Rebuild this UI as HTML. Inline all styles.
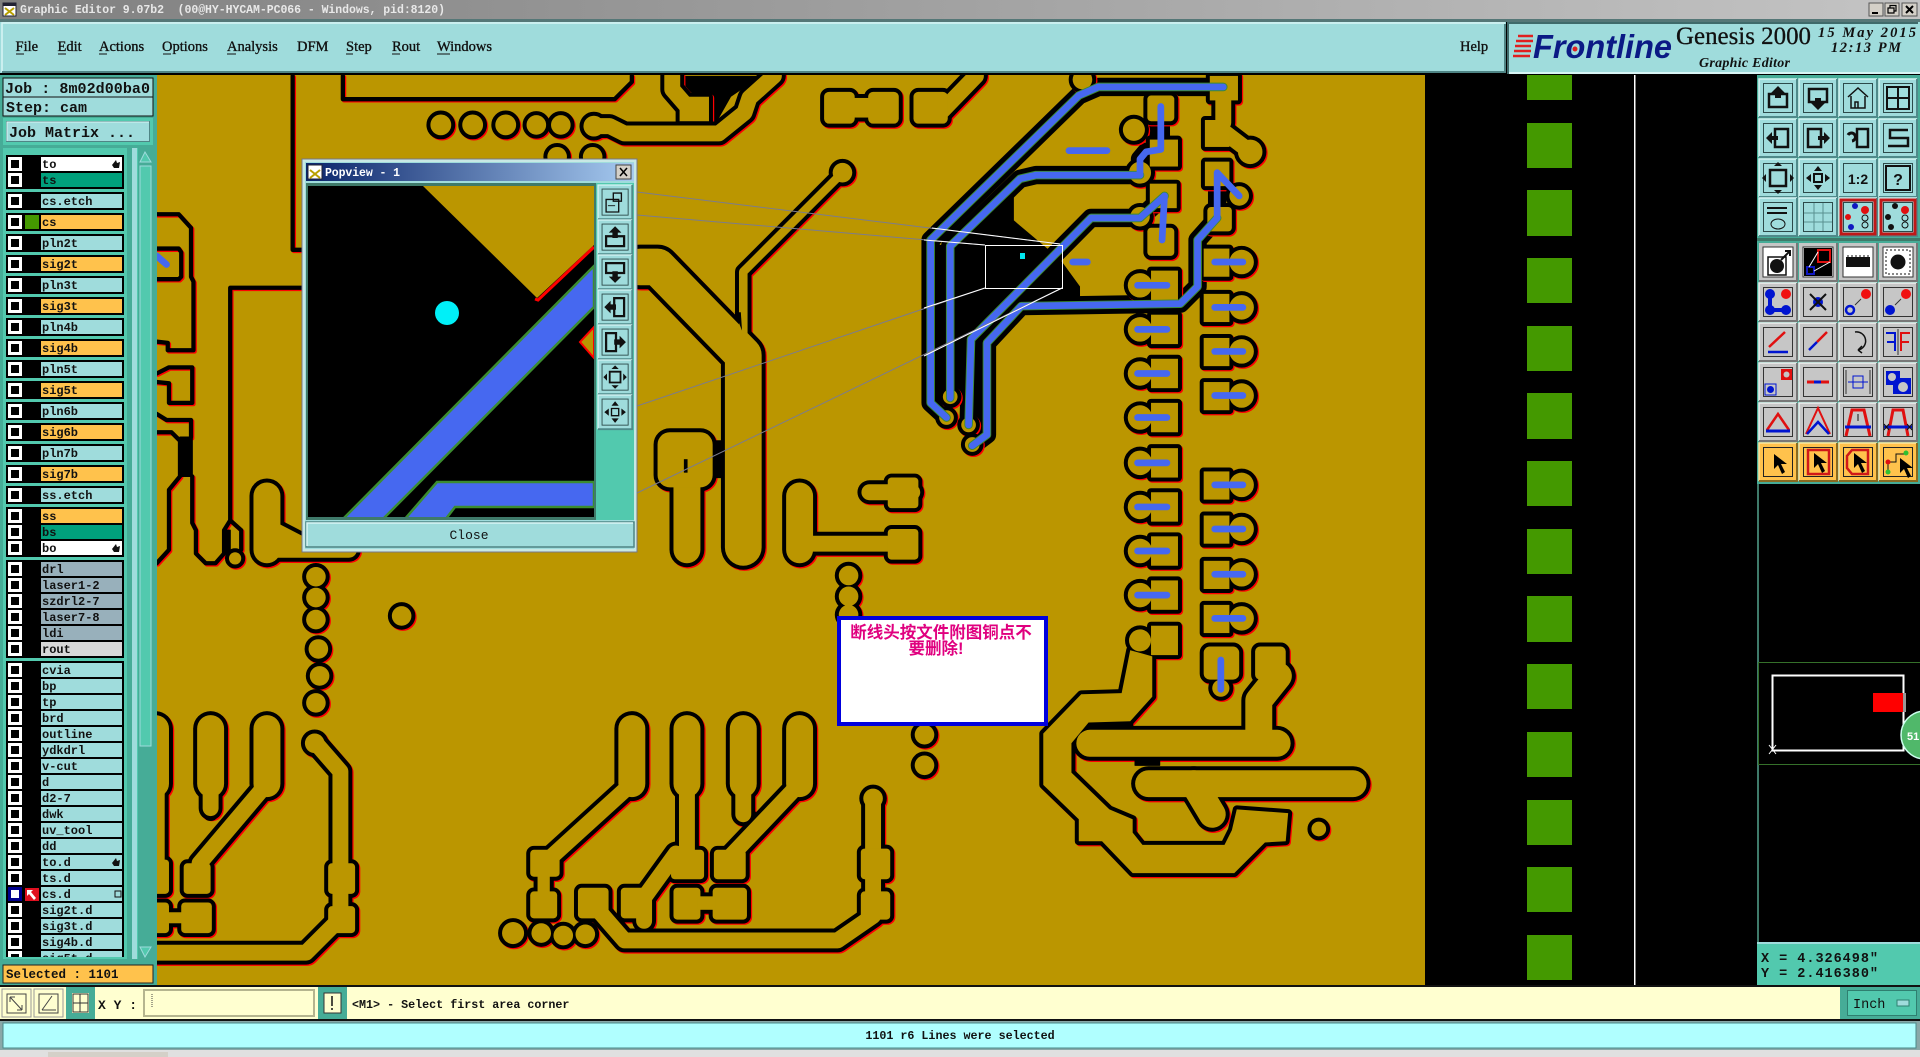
<!DOCTYPE html>
<html><head><meta charset="utf-8"><title>Genesis 2000 Graphic Editor</title>
<style>
html,body{margin:0;padding:0;background:#000;overflow:hidden}
svg{display:block}
text{white-space:pre}
.m{font-family:"Liberation Mono",monospace;font-weight:bold;fill:#111}
.l{font-size:12px}
.s{font-family:"Liberation Serif",serif;fill:#111}
.t{font-family:"Liberation Sans",sans-serif;font-weight:bold}
</style></head><body>
<svg xmlns="http://www.w3.org/2000/svg" width="1920" height="1057" viewBox="0 0 1920 1057">
<defs>
<linearGradient id="tg" x1="0" x2="1"><stop offset="0" stop-color="#808080"/><stop offset="1" stop-color="#c4c4c4"/></linearGradient>
<linearGradient id="pg" x1="0" x2="1"><stop offset="0" stop-color="#0a246a"/><stop offset="1" stop-color="#a6caf0"/></linearGradient>
<clipPath id="cv"><rect x="157" y="75" width="1268" height="910"/></clipPath>
<clipPath id="pc"><rect x="308" y="186" width="286" height="331"/></clipPath>
<clipPath id="lc"><rect x="0" y="150" width="127" height="807"/></clipPath>

<g id="t7"><path fill="none" d="M688,141L607,222V275"/></g>
<g id="t13" fill="none">
<path d="M258,607L278,630V750L250,778H120"/><path d="M218,640L163,705V715"/><path d="M172,640V660"/><path d="M128,640V705"/>
<path d="M516,640L450,700"/><path d="M561,640V700"/><path d="M552,697L526,733V752"/><path d="M607,640V665"/><path d="M653,640L596,700"/>
<path d="M713,655V748L684,768H510L490,745"/><path d="M653,444H730"/><path d="M710,402H745"/><path d="M770,90L797,62"/>
<path d="M486,103H498L510,109H587L608,92L612,80L632,62"/><path d="M549,62V73L562,88"/><path d="M1021,124L1000,108"/><path d="M999,82V100"/>
<path d="M218,430L247,445"/><path d="M218,449H285"/>
</g>
<g id="t22" fill="none">
<path d="M127,595V640"/><path d="M172,595V640"/><path d="M218,405V449"/><path d="M218,595V640"/><path d="M516,595V640"/><path d="M561,595V640"/><path d="M607,595V640"/><path d="M653,595V640"/>
<path d="M561,375V449"/><path d="M653,405V449"/><path d="M890,607H1043"/><path d="M938,640H1105"/><path d="M975,640L990,665"/><path d="M1028,600V572L1044,552"/>
</g>
<g id="t30"><path fill="none" d="M523,218H537L607,290V447"/></g>
<g id="sh">
<circle cx="360" cy="102" r="8.5"/><circle cx="386" cy="102" r="8.5"/><circle cx="413" cy="102" r="8.5"/><circle cx="438" cy="102" r="8"/><circle cx="458" cy="102" r="8"/><circle cx="485" cy="103" r="8.5"/><circle cx="455" cy="128" r="8"/><circle cx="484" cy="128" r="8"/>
<circle cx="688" cy="141" r="8"/><circle cx="192" cy="456" r="5"/>
<circle cx="258" cy="471" r="8"/><circle cx="258" cy="488" r="8"/><circle cx="258" cy="506" r="8"/><circle cx="260" cy="530" r="8"/><circle cx="261" cy="552" r="8"/><circle cx="258" cy="574" r="8"/>
<circle cx="328" cy="503" r="8"/><circle cx="257" cy="607" r="8"/>
<circle cx="693" cy="470" r="8"/><circle cx="693" cy="487" r="8"/><circle cx="693" cy="502" r="8"/><circle cx="755" cy="600" r="8"/><circle cx="755" cy="625" r="8"/><circle cx="1077" cy="677" r="6"/>
<circle cx="713" cy="652" r="8"/>
<circle cx="419" cy="762" r="9"/><circle cx="442" cy="762" r="8"/><circle cx="460" cy="764" r="8"/><circle cx="478" cy="763" r="8"/>
<rect x="150" y="705" width="22" height="25" rx="3"/><rect x="120" y="702" width="18" height="28" rx="3"/><rect x="148" y="737" width="25" height="25" rx="3"/><rect x="120" y="737" width="18" height="25" rx="3"/><rect x="130" y="745" width="20" height="9"/>
<rect x="268" y="705" width="22" height="25" rx="3"/><rect x="268" y="740" width="22" height="22" rx="3"/>
<rect x="433" y="694" width="24" height="22" rx="3"/><rect x="433" y="728" width="22" height="22" rx="3"/><rect x="439" y="714" width="10" height="16"/>
<rect x="472" y="725" width="25" height="25" rx="3"/><rect x="507" y="725" width="23" height="25" rx="3"/>
<rect x="548" y="694" width="27" height="24" rx="3"/><rect x="583" y="694" width="26" height="24" rx="3"/><rect x="550" y="725" width="22" height="26" rx="3"/><rect x="582" y="725" width="28" height="26" rx="3"/><rect x="570" y="732" width="14" height="11"/>
<rect x="703" y="693" width="24" height="25" rx="3"/><rect x="703" y="728" width="24" height="23" rx="3"/>
<rect x="725" y="390" width="25" height="25" rx="3"/><rect x="725" y="432" width="25" height="25" rx="3"/>
<rect x="673" y="75" width="25" height="26" rx="4"/><rect x="709" y="75" width="25" height="26" rx="4"/><rect x="696" y="80" width="15" height="16"/><rect x="746" y="75" width="28" height="26" rx="4"/>
<rect x="555" y="79" width="24" height="20"/>
<rect x="537" y="353" width="45" height="45" rx="10"/>
<circle cx="931" cy="233" r="10"/><rect x="940" y="221" width="22" height="24"/><circle cx="931" cy="269" r="10"/><rect x="940" y="257" width="22" height="24"/><circle cx="931" cy="305" r="10"/><rect x="940" y="293" width="22" height="24"/><circle cx="931" cy="341" r="10"/><rect x="940" y="329" width="22" height="24"/><circle cx="931" cy="378" r="10"/><rect x="940" y="366" width="22" height="24"/><circle cx="931" cy="414" r="10"/><rect x="940" y="402" width="22" height="24"/><circle cx="931" cy="450" r="10"/><rect x="940" y="438" width="22" height="24"/><circle cx="931" cy="486" r="10"/><rect x="940" y="474" width="22" height="24"/><circle cx="931" cy="523" r="9"/><rect x="940" y="511" width="22" height="24"/>
<rect x="983" y="203" width="21" height="23"/><circle cx="1014" cy="214" r="10"/><rect x="983" y="240" width="21" height="23"/><circle cx="1014" cy="251" r="10"/><rect x="983" y="276" width="21" height="23"/><circle cx="1014" cy="287" r="10"/><rect x="983" y="312" width="21" height="23"/><circle cx="1014" cy="323" r="10"/>
<rect x="983" y="385" width="21" height="23"/><circle cx="1014" cy="396" r="10"/><rect x="983" y="421" width="21" height="23"/><circle cx="1014" cy="432" r="10"/><rect x="983" y="458" width="21" height="23"/><circle cx="1014" cy="469" r="10"/><rect x="983" y="494" width="21" height="23"/><circle cx="1014" cy="505" r="10"/>
<rect x="937" y="78" width="22" height="21" rx="3"/><circle cx="926" cy="106" r="9"/><rect x="939" y="114" width="23" height="22"/><circle cx="931" cy="141" r="9"/><rect x="939" y="150" width="22" height="20"/><circle cx="931" cy="177" r="8"/><rect x="937" y="186" width="22" height="23" rx="3"/>
<rect x="988" y="62" width="23" height="20"/><rect x="984" y="98" width="20" height="22"/><circle cx="1021" cy="124" r="10"/><rect x="984" y="132" width="20" height="20"/><circle cx="1012" cy="160" r="8"/><rect x="986" y="169" width="20" height="20" rx="3"/>
<rect x="983" y="528" width="29" height="27" rx="5"/><circle cx="997" cy="562" r="7"/><rect x="1025" y="528" width="25" height="27" rx="4"/>
<circle cx="884" cy="65" r="8"/><circle cx="776" cy="324" r="6"/><circle cx="773" cy="341" r="6"/><circle cx="791" cy="347" r="6"/><circle cx="794" cy="363" r="6"/>
<polygon points="923,531 916,566 883,567 852,599 852,641 881,669 881,687 900,687 925,713 1008,713 1033,688 1050,687 1052,664 1010,661 1006,678 1000,690 933,690 925,680 925,669 906,661 875,631 875,607 889,590 923,589 941,569 941,536"/>
</g>
<g id="ln" fill="none">
<path d="M239,62V204H250"/><path d="M280,62V81H502L516,67V62"/>
<path d="M128,175H146L156,186V226L158,230V286H137V280L128,279"/><path d="M128,203H146L148,206V226L146,228H128"/>
<path d="M128,305L138,300H157V329H138V313L128,312"/><path d="M128,338L136,343H156V357"/>
<path d="M128,353H140L147,360V389L138,400V449L128,460"/>
<path d="M157,389V427L160,433V452L168,460H176L183,452V433L188,425V235H250"/><path d="M188,425L197,433V449"/>
</g>

<g id="bt"><rect width="38" height="38" fill="#9fdcdc"/><path d="M0,38V0H38" fill="none" stroke="#d6f4f4" stroke-width="1.5"/><path d="M0,38H38V0" fill="none" stroke="#4f8a8a" stroke-width="2"/><rect x="4.500" y="4.500" width="29" height="29" fill="none" stroke="#2c4a4a"/></g>
<g id="bg"><rect width="38" height="38" fill="#c6c6c6"/><path d="M0,38V0H38" fill="none" stroke="#eee" stroke-width="1.500"/><path d="M0,38H38V0" fill="none" stroke="#777" stroke-width="2"/><rect x="4.500" y="4.500" width="29" height="29" fill="none" stroke="#333"/></g>
<g id="bw"><rect width="38" height="38" fill="#c6c6c6"/><path d="M0,38H38V0" fill="none" stroke="#777" stroke-width="2"/><rect x="4" y="4" width="30" height="30" fill="#fff" stroke="#333"/></g>
<g id="by"><rect width="38" height="38" fill="#ffc24c"/><path d="M0,38V0H38" fill="none" stroke="#ffe3a0" stroke-width="1.500"/><path d="M0,38H38V0" fill="none" stroke="#8a6a20" stroke-width="2"/><rect x="4.500" y="4.500" width="29" height="29" fill="none" stroke="#222"/></g>
<g id="arr"><path d="M0,0L0,15L4,11L8,20L11,18L7,10L13,10Z" fill="#000"/></g>
<g id="ck"><rect x="9.500" y="-5.500" width="11" height="11" fill="#000" stroke="#fff" stroke-width="3"/></g>
<g id="hd"><path d="M-4,1L0,-4L1,-1L4,-2L3,4H-2Z" fill="#111"/></g>
</defs>

<!-- background -->
<rect width="1920" height="1057" fill="#000"/>

<!-- title bar -->
<rect width="1920" height="19" fill="url(#tg)"/>
<rect y="19" width="1920" height="3" fill="#557777"/>
<rect x="3" y="3" width="13" height="13" fill="#fff" stroke="#223"/><rect x="3" y="3" width="13" height="3" fill="#223"/><path d="M5,8L14,15M14,8L5,15" stroke="#b8a000" stroke-width="2"/>
<text x="20" y="13" class="m" style="font-size:11.500px;fill:#e8e8e8" textLength="425">Graphic Editor 9.07b2  (00@HY-HYCAM-PC066 - Windows, pid:8120)</text>
<g fill="#d4d0c8" stroke="#555"><rect x="1869" y="3" width="14" height="13"/><rect x="1885" y="3" width="14" height="13"/><rect x="1902" y="3" width="15" height="13"/></g>
<path d="M1872,13H1878" stroke="#000" stroke-width="2"/><path d="M1888,8h6v5h-6zM1890,8V5.500h6V11h-2" fill="none" stroke="#000" stroke-width="1.200"/><path d="M1906,6L1913,13M1913,6L1906,13" stroke="#000" stroke-width="2"/>

<!-- menu -->
<rect x="0" y="22" width="1506" height="51" fill="#9fdcdc"/><path d="M2,72V23H1505" fill="none" stroke="#d8f5f5" stroke-width="1.500"/><path d="M2,72H1505V24" fill="none" stroke="#4f8585" stroke-width="2"/>
<g class="s" style="font-size:14.500px;stroke:#111;stroke-width:.35px">
<text x="15.500" y="51">File</text><text x="57.500" y="51">Edit</text><text x="99" y="51">Actions</text><text x="162" y="51">Options</text><text x="227" y="51">Analysis</text><text x="297" y="51">DFM</text><text x="346" y="51">Step</text><text x="392" y="51">Rout</text><text x="437" y="51">Windows</text><text x="1460" y="51">Help</text>
</g>
<g stroke="#111" stroke-width="1"><path d="M16,54H24M58,54H66M99,54H107M163,54H171M227,54H236M346,54H353M392,54H400M437,54H450"/></g>

<!-- logo -->
<rect x="1508" y="22" width="412" height="51" fill="#9fdcdc"/><path d="M1508,74V23H1918" fill="none" stroke="#3f6a6a" stroke-width="2"/><path d="M1509,73H1920" stroke="#d8f5f5" stroke-width="2"/>
<g stroke="#e02020" stroke-width="2.500"><path d="M1518,36H1533M1516,41H1533M1515,46H1531M1514,51H1531M1513,56H1530"/></g>
<text x="1533" y="58" class="t" style="font-size:33px;font-style:italic;fill:#0b1a85" textLength="139" lengthAdjust="spacingAndGlyphs">Frontline</text>
<circle cx="1575" cy="49" r="2.500" fill="#e02020"/>
<text x="1676" y="44" class="s" style="font-size:25px;stroke:#111;stroke-width:.3px" textLength="135" lengthAdjust="spacingAndGlyphs">Genesis 2000</text>
<text x="1699" y="67" class="s" style="font-size:14px;font-style:italic;font-weight:bold" textLength="91">Graphic Editor</text>
<text x="1818" y="37" class="s" style="font-size:14.500px;font-style:italic;font-weight:bold" textLength="98">15 May 2015</text>
<text x="1831" y="52" class="s" style="font-size:14.500px;font-style:italic;font-weight:bold" textLength="70">12:13 PM</text>

<!-- canvas -->
<rect x="157" y="75" width="1268" height="910" fill="#bb9600"/>
<g clip-path="url(#cv)">
<g transform="scale(1.2245)">
<polygon points="775,201 833,147 828,158 828,180 866,212 882,234 882,242 833,245 793,275 789,321 783,321 783,203" fill="#000"/>
<polygon points="556,62 622,62 597,79 584,102 579,98 579,79 565,76 556,70" fill="#000"/>
<polygon points="760,200 776,200 776,325 760,325" fill="#000"/>
<g fill="none" stroke="#000" stroke-width="15" stroke-linejoin="round">
<path d="M999,71H897L881,78L760,196V329L773,341"/><path d="M931,143H846L833,146L776,201V325"/><path d="M951,160L931,178H891L793,277L791,347"/><path d="M994,178L978,196V234L964,248L834,250L806,280V355L794,364"/><path d="M994,141V178"/><path d="M948,87V122L936,124L931,130V143"/><path d="M926,106H950"/>
</g>
<!-- red pass -->
<g transform="translate(1,1)" stroke="#f00" fill="#f00" stroke-linejoin="round" stroke-linecap="round">
<use href="#t7" stroke-width="13.500"/><use href="#t13" stroke-width="19.500"/><use href="#t22" stroke-width="28.500"/><use href="#t30" stroke-width="36.500"/><use href="#sh" stroke-width="6.500"/><use href="#ln" stroke-width="3.500"/>
</g>
<!-- black pass -->
<g stroke="#000" fill="#000" stroke-linejoin="round" stroke-linecap="round">
<use href="#t7" stroke-width="13.500"/><use href="#t13" stroke-width="19.500"/><use href="#t22" stroke-width="28.500"/><use href="#t30" stroke-width="36.500"/><use href="#sh" stroke-width="6.500"/><use href="#ln" stroke-width="3.500"/>
<path d="M147,357h10v32h-10zM183,433h5v19h-5zM585,360h8v30h-8zM892,589h33v6h-33zM927,617h20v8h-20zM872,605h5v20h-5z" stroke-width="1"/>
<circle cx="612" cy="667" r="6"/><circle cx="172" cy="664" r="6"/>
</g>
<!-- gold pass -->
<g stroke="#bb9600" fill="#bb9600" stroke-linejoin="round" stroke-linecap="round">
<use href="#t7" stroke-width="7"/><use href="#t13" stroke-width="13"/><use href="#t22" stroke-width="22"/><use href="#t30" stroke-width="30"/><use href="#sh" stroke-width="0"/>
</g>
<path d="M560,375V386" stroke="#000" stroke-width="3"/>
<polygon points="600,255 605,255 606,270" fill="#000"/>
<!-- blue -->
<g fill="none" stroke="#3c8c30" stroke-width="7" stroke-linejoin="round" stroke-linecap="round">
<path d="M999,71H897L881,78L760,196V329L773,341"/><path d="M931,143H846L833,146L776,201V325"/><path d="M951,160L931,178H891L793,277L791,347"/><path d="M994,178L978,196V234L964,248L834,250L806,280V355L794,364"/>
</g>
<g fill="none" stroke="#4668f0" stroke-width="5.500" stroke-linejoin="round" stroke-linecap="round">
<path d="M999,71H897L881,78L760,196V329L773,341"/><path d="M931,143H846L833,146L776,201V325"/><path d="M951,160L931,178H891L793,277L791,347"/><path d="M951,160L949,196"/><path d="M994,178L978,196V234L964,248L834,250L806,280V355L794,364"/><path d="M1012,160L994,141V178"/><path d="M948,87V122L936,124L931,130V143"/>
<path d="M873,123H904M876,214H888M997,539V563M128,209L136,216"/>
<path d="M929,233H953M929,269H953M929,305H953M929,341H953M929,378H953M929,414H953M929,450H953M929,486H953"/>
<path d="M992,214H1015M992,251H1015M992,287H1015M992,323H1015M992,396H1015M992,432H1015M992,469H1015M992,505H1015"/>
</g>
</g>
<!-- connector lines -->
<g stroke="#7c7c8c" stroke-width="1" fill="none">
<path d="M637,192L1060,244"/><path d="M637,215L985,245"/><path d="M637,406L985,288"/><path d="M637,493L1062,288"/>
</g>
<g stroke="#fff" stroke-width="1" fill="none">
<path d="M932,228L1060,244"/><path d="M924,240L985,245"/><path d="M924,308L985,288"/><path d="M924,356L1062,288"/>
<rect x="985.500" y="245.500" width="77" height="43"/>
</g>
<rect x="1020" y="253" width="5" height="6" fill="#00e8f0"/>
</g>

<!-- note box -->
<rect x="839" y="618" width="207" height="106" fill="#fff" stroke="#0000dd" stroke-width="4"/>
<g style="font-family:'Liberation Sans','Noto Sans CJK SC',sans-serif;font-size:16.500px;font-weight:bold;fill:#e0007f" text-anchor="middle">
<text x="941" y="638">断线头按文件附图铜点不</text><text x="936" y="654">要删除!</text>
</g>

<!-- right black area -->
<g fill="#449900">
<rect x="1527" y="75" width="45" height="25"/><rect x="1527" y="123" width="45" height="45"/><rect x="1527" y="190" width="45" height="46"/><rect x="1527" y="258" width="45" height="45"/><rect x="1527" y="326" width="45" height="45"/><rect x="1527" y="393" width="45" height="46"/><rect x="1527" y="461" width="45" height="45"/><rect x="1527" y="529" width="45" height="45"/><rect x="1527" y="596" width="45" height="46"/><rect x="1527" y="664" width="45" height="45"/><rect x="1527" y="732" width="45" height="45"/><rect x="1527" y="800" width="45" height="45"/><rect x="1527" y="867" width="45" height="45"/><rect x="1527" y="935" width="45" height="45"/>
</g>
<rect x="1634" y="75" width="1.500" height="910" fill="#fff"/>

<!-- left panel -->
<rect x="0" y="75" width="157" height="910" fill="#46ac97"/>
<rect x="3" y="78" width="150" height="19" fill="#9fdcdc" stroke="#111"/><rect x="3" y="97" width="150" height="19" fill="#9fdcdc" stroke="#111"/>
<text x="5" y="93" class="m" style="font-size:15px" textLength="145">Job : 8m02d00ba0</text>
<text x="6" y="112" class="m" style="font-size:15px">Step: cam</text>
<rect x="3" y="118" width="150" height="27" fill="#52c9ae"/><rect x="6.500" y="121.500" width="143" height="20" fill="#9fdcdc" stroke="#4f8585"/>
<path d="M7,141V122H149" fill="none" stroke="#d8f5f5"/>
<text x="9" y="137" class="m" style="font-size:15px">Job Matrix ...</text>
<rect x="3" y="148" width="150" height="811" fill="#52c9ae"/>
<rect x="127" y="148" width="5" height="811" fill="#46ac97"/><rect x="132" y="148" width="5" height="811" fill="#9fdcdc"/>
<rect x="138" y="148" width="15" height="811" fill="#46ac97"/><rect x="140" y="166" width="11" height="580" fill="#52c9ae" stroke="#9fdcdc"/>
<path d="M145,152L140,162H151Z" fill="#52c9ae" stroke="#9fdcdc"/><path d="M145,957L140,947H151Z" fill="#52c9ae" stroke="#9fdcdc"/>

<g clip-path="url(#lc)">
<g fill="#000"><rect x="6" y="155" width="118" height="34"/><rect x="6" y="192" width="118" height="18"/><rect x="6" y="213" width="118" height="18"/><rect x="6" y="234" width="118" height="18"/><rect x="6" y="255" width="118" height="18"/><rect x="6" y="276" width="118" height="18"/><rect x="6" y="297" width="118" height="18"/><rect x="6" y="318" width="118" height="18"/><rect x="6" y="339" width="118" height="18"/><rect x="6" y="360" width="118" height="18"/><rect x="6" y="381" width="118" height="18"/><rect x="6" y="402" width="118" height="18"/><rect x="6" y="423" width="118" height="18"/><rect x="6" y="444" width="118" height="18"/><rect x="6" y="465" width="118" height="18"/><rect x="6" y="486" width="118" height="18"/><rect x="6" y="507" width="118" height="50"/><rect x="6" y="560" width="118" height="98"/><rect x="6" y="661" width="118" height="300"/></g>
<g fill="#9fdcdc">
<rect x="41" y="157" width="81" height="14" fill="#fff"/><rect x="41" y="173" width="81" height="14" fill="#00a07c"/>
<rect x="41" y="194" width="81" height="14"/><rect x="41" y="215" width="81" height="14" fill="#ffc24c"/><rect x="41" y="236" width="81" height="14"/><rect x="41" y="257" width="81" height="14" fill="#ffc24c"/><rect x="41" y="278" width="81" height="14"/><rect x="41" y="299" width="81" height="14" fill="#ffc24c"/><rect x="41" y="320" width="81" height="14"/><rect x="41" y="341" width="81" height="14" fill="#ffc24c"/><rect x="41" y="362" width="81" height="14"/><rect x="41" y="383" width="81" height="14" fill="#ffc24c"/><rect x="41" y="404" width="81" height="14"/><rect x="41" y="425" width="81" height="14" fill="#ffc24c"/><rect x="41" y="446" width="81" height="14"/><rect x="41" y="467" width="81" height="14" fill="#ffc24c"/><rect x="41" y="488" width="81" height="14"/>
<rect x="41" y="509" width="81" height="14" fill="#ffc24c"/><rect x="41" y="525" width="81" height="14" fill="#00a07c"/><rect x="41" y="541" width="81" height="14" fill="#fff"/>
<rect x="41" y="562" width="81" height="14" fill="#98b0bb"/><rect x="41" y="578" width="81" height="14" fill="#98b0bb"/><rect x="41" y="594" width="81" height="14" fill="#98b0bb"/><rect x="41" y="610" width="81" height="14" fill="#98b0bb"/><rect x="41" y="626" width="81" height="14" fill="#98b0bb"/><rect x="41" y="642" width="81" height="14" fill="#d8d8d8"/>
<rect x="41" y="663" width="81" height="14"/><rect x="41" y="679" width="81" height="14"/><rect x="41" y="695" width="81" height="14"/><rect x="41" y="711" width="81" height="14"/><rect x="41" y="727" width="81" height="14"/><rect x="41" y="743" width="81" height="14"/><rect x="41" y="759" width="81" height="14"/><rect x="41" y="775" width="81" height="14"/><rect x="41" y="791" width="81" height="14"/><rect x="41" y="807" width="81" height="14"/><rect x="41" y="823" width="81" height="14"/><rect x="41" y="839" width="81" height="14"/><rect x="41" y="855" width="81" height="14"/><rect x="41" y="871" width="81" height="14"/><rect x="41" y="887" width="81" height="14"/><rect x="41" y="903" width="81" height="14"/><rect x="41" y="919" width="81" height="14"/><rect x="41" y="935" width="81" height="14"/><rect x="41" y="951" width="81" height="14"/>
</g>
<use href="#ck" y="164"/><use href="#ck" y="180"/><use href="#ck" y="201"/><use href="#ck" y="222"/><use href="#ck" y="243"/><use href="#ck" y="264"/><use href="#ck" y="285"/><use href="#ck" y="306"/><use href="#ck" y="327"/><use href="#ck" y="348"/><use href="#ck" y="369"/><use href="#ck" y="390"/><use href="#ck" y="411"/><use href="#ck" y="432"/><use href="#ck" y="453"/><use href="#ck" y="474"/><use href="#ck" y="495"/><use href="#ck" y="516"/><use href="#ck" y="532"/><use href="#ck" y="548"/><use href="#ck" y="569"/><use href="#ck" y="585"/><use href="#ck" y="601"/><use href="#ck" y="617"/><use href="#ck" y="633"/><use href="#ck" y="649"/><use href="#ck" y="670"/><use href="#ck" y="686"/><use href="#ck" y="702"/><use href="#ck" y="718"/><use href="#ck" y="734"/><use href="#ck" y="750"/><use href="#ck" y="766"/><use href="#ck" y="782"/><use href="#ck" y="798"/><use href="#ck" y="814"/><use href="#ck" y="830"/><use href="#ck" y="846"/><use href="#ck" y="862"/><use href="#ck" y="878"/><use href="#ck" y="910"/><use href="#ck" y="926"/><use href="#ck" y="942"/><use href="#ck" y="958"/>
<rect x="9.500" y="888.500" width="11" height="11" fill="#fff" stroke="#00008c" stroke-width="3"/>
<rect x="25" y="888" width="14" height="13" fill="#e01020"/><path d="M27,890h6l-2,2l5,6l-2,2l-5,-6l-2,2z" fill="#fff"/>
<rect x="25" y="215" width="14" height="14" fill="#449900"/>
<g class="m l">
<text x="42" y="168">to</text><text x="42" y="184">ts</text><text x="42" y="205">cs.etch</text><text x="42" y="226">cs</text><text x="42" y="247">pln2t</text><text x="42" y="268">sig2t</text><text x="42" y="289">pln3t</text><text x="42" y="310">sig3t</text><text x="42" y="331">pln4b</text><text x="42" y="352">sig4b</text><text x="42" y="373">pln5t</text><text x="42" y="394">sig5t</text><text x="42" y="415">pln6b</text><text x="42" y="436">sig6b</text><text x="42" y="457">pln7b</text><text x="42" y="478">sig7b</text><text x="42" y="499">ss.etch</text><text x="42" y="520">ss</text><text x="42" y="536">bs</text><text x="42" y="552">bo</text><text x="42" y="573">drl</text><text x="42" y="589">laser1-2</text><text x="42" y="605">szdrl2-7</text><text x="42" y="621">laser7-8</text><text x="42" y="637">ldi</text><text x="42" y="653">rout</text><text x="42" y="674">cvia</text><text x="42" y="690">bp</text><text x="42" y="706">tp</text><text x="42" y="722">brd</text><text x="42" y="738">outline</text><text x="42" y="754">ydkdrl</text><text x="42" y="770">v-cut</text><text x="42" y="786">d</text><text x="42" y="802">d2-7</text><text x="42" y="818">dwk</text><text x="42" y="834">uv_tool</text><text x="42" y="850">dd</text><text x="42" y="866">to.d</text><text x="42" y="882">ts.d</text><text x="42" y="898">cs.d</text><text x="42" y="914">sig2t.d</text><text x="42" y="930">sig3t.d</text><text x="42" y="946">sig4b.d</text><text x="42" y="962">sig5t.d</text>
</g>
<use href="#hd" x="116" y="164"/><use href="#hd" x="116" y="548"/><use href="#hd" x="116" y="862"/>
<rect x="115" y="891" width="6" height="6" fill="none" stroke="#111"/>
</g>
<rect x="3" y="965" width="150" height="18" fill="#ffc24c" stroke="#222"/>
<text x="6" y="978" class="m" style="font-size:12.500px">Selected : 1101</text>

<!-- popview -->
<rect x="302" y="159" width="335" height="393" fill="#c8e8e4" stroke="#778" stroke-width="1"/>
<rect x="305" y="162" width="329" height="387" fill="#9fdcdc"/>
<rect x="306" y="163" width="328" height="18" fill="url(#pg)"/>
<rect x="308" y="165" width="14" height="14" fill="#fff" stroke="#223"/><path d="M310,170L320,178M320,170L310,178" stroke="#b8a000" stroke-width="2"/>
<text x="325" y="176" class="m" style="font-size:11.500px;fill:#fff" textLength="75">Popview - 1</text>
<rect x="616" y="165" width="15" height="14" fill="#d4d0c8" stroke="#444"/><path d="M620,168L627,176M627,168L620,176" stroke="#000" stroke-width="1.500"/>
<rect x="306" y="183" width="290" height="337" fill="#3f7a6a"/>
<rect x="308" y="186" width="286" height="331" fill="#000"/>
<g clip-path="url(#pc)">
<polygon points="423,186 594,186 594,245 537,298" fill="#bb9600"/>
<path d="M535,299L538,300L594,247" fill="none" stroke="#f00" stroke-width="3"/>
<polygon points="594,327 580,342 594,358" fill="#bb9600" stroke="#f00" stroke-width="2"/>
<polygon points="342,520 594,266 594,307 382,520" fill="#4668f0" stroke="#3c8c30" stroke-width="2.500"/>
<polygon points="404,520 437,482 594,482 594,507 455,507 445,520" fill="#4668f0" stroke="#3c8c30" stroke-width="2.500"/>
</g>
<circle cx="447" cy="313" r="12" fill="#00f0f8"/>
<rect x="596" y="183" width="38" height="337" fill="#52c9ae"/>
<g id="pb">
<g transform="translate(598,185) scale(.9)"><use href="#bt"/><path d="M9,16h14v14H9zM17,9h9v9h-9z" fill="none" stroke="#111" stroke-width="1.500"/><path d="M11,23h8" stroke="#111"/></g>
<g transform="translate(598,220) scale(.9)"><use href="#bt"/><path d="M9,18h20v11H9z" fill="none" stroke="#111" stroke-width="2.500"/><path d="M19,7l7,7h-4v6h-6v-6h-4z" fill="#111"/></g>
<g transform="translate(598,255) scale(.9)"><use href="#bt"/><path d="M9,9h20v11H9z" fill="none" stroke="#111" stroke-width="2.500"/><path d="M19,31l7,-7h-4v-6h-6v6h-4z" fill="#111"/></g>
<g transform="translate(598,290) scale(.9)"><use href="#bt"/><path d="M18,9h11v20H18z" fill="none" stroke="#111" stroke-width="2.500"/><path d="M7,19l7,-7v4h6v6h-6v4z" fill="#111"/></g>
<g transform="translate(598,325) scale(.9)"><use href="#bt"/><path d="M9,9h11v20H9z" fill="none" stroke="#111" stroke-width="2.500"/><path d="M31,19l-7,-7v4h-6v6h6v4z" fill="#111"/></g>
<g transform="translate(598,360) scale(.9)"><use href="#bt"/><path d="M13,13h12v12H13z" fill="none" stroke="#111" stroke-width="2"/><path d="M19,6l4,4h-8zM19,32l4,-4h-8zM6,19l4,-4v8zM32,19l-4,-4v8z" fill="#111"/></g>
<g transform="translate(598,395) scale(.9)"><use href="#bt"/><path d="M15,15h8v8h-8z" fill="none" stroke="#111" stroke-width="1.500"/><path d="M19,7l4,5h-8zM19,31l4,-5h-8zM7,19l5,-4v8zM31,19l-5,-4v8z" fill="#111"/></g>
</g>
<rect x="306" y="522" width="328" height="25" fill="#9fdcdc" stroke="#4f8585" stroke-width="1.500"/>
<path d="M307,546V523H633" fill="none" stroke="#d8f5f5" stroke-width="1.500"/>
<text x="469" y="539" class="m" style="font-size:13px;font-weight:normal" text-anchor="middle">Close</text>

<!-- right panel -->
<rect x="1757" y="75" width="163" height="409" fill="#46ac97"/>
<rect x="1757" y="238" width="163" height="3" fill="#3f7a6a"/>
<rect x="1757" y="484" width="2" height="458" fill="#3f7a6a"/>
<g fill="none" stroke="#35702a"><rect x="1758.500" y="662.500" width="170" height="102"/></g>
<rect x="1772.500" y="675.500" width="131" height="75" fill="none" stroke="#fff" stroke-width="2"/>
<rect x="1873" y="693" width="30" height="19" fill="#f00"/><rect x="1903" y="693" width="3" height="19" fill="#999"/>
<path d="M1769,745L1776,754M1776,745L1769,754" stroke="#fff"/>
<circle cx="1925" cy="735" r="24" fill="#50b86a" stroke="#cfe" stroke-width="1.500"/>
<text x="1907" y="740" class="t" style="font-size:11px;fill:#fff">51</text>
<rect x="1757" y="942" width="163" height="43" fill="#52c9ae"/><path d="M1757,943H1920" stroke="#9fdcdc" stroke-width="2"/>
<text x="1761" y="962" class="m" style="font-size:13.500px" textLength="117">X = 4.326498"</text>
<text x="1761" y="977" class="m" style="font-size:13.500px" textLength="117">Y = 2.416380"</text>

<!-- toolbar top -->
<g transform="translate(1759,79)"><use href="#bt"/><path d="M10,15h18v13H10z" fill="none" stroke="#111" stroke-width="2.500"/><path d="M19,7l7,7h-4v5h-6v-5h-4z" fill="#111"/></g>
<g transform="translate(1799,79)"><use href="#bt"/><path d="M10,10h18v13H10z" fill="none" stroke="#111" stroke-width="2.500"/><path d="M19,31l7,-7h-4v-5h-6v5h-4z" fill="#111"/></g>
<g transform="translate(1839,79)"><use href="#bt"/><path d="M9,18L19,9L29,18M12,17v12h14V17M16,29v-6h3v6" fill="none" stroke="#111" stroke-width="1.500"/></g>
<g transform="translate(1879,79)"><use href="#bt"/><path d="M8,8h22v22H8zM19,8v22M8,19h22" fill="none" stroke="#111" stroke-width="2"/></g>
<g transform="translate(1759,119)"><use href="#bt"/><path d="M16,10h13v18H16z" fill="none" stroke="#111" stroke-width="2.500"/><path d="M7,19l6,-6v4h6v4h-6v4z" fill="#111"/></g>
<g transform="translate(1799,119)"><use href="#bt"/><path d="M9,10h13v18H9z" fill="none" stroke="#111" stroke-width="2.500"/><path d="M31,19l-6,-6v4h-6v4h6v4z" fill="#111"/></g>
<g transform="translate(1839,119)"><use href="#bt"/><path d="M18,10h11v18H18z" fill="none" stroke="#111" stroke-width="2.500"/><path d="M9,16a4,4 0 1,1 4,6" fill="none" stroke="#111" stroke-width="3"/></g>
<g transform="translate(1879,119)"><use href="#bt"/><path d="M29,11H11v8h18v8H9" fill="none" stroke="#111" stroke-width="2.500"/></g>
<g transform="translate(1759,159)"><use href="#bt"/><path d="M11,11h16v16H11z" fill="none" stroke="#111" stroke-width="2.500"/><path d="M19,3l4,4h-8zM19,35l4,-4h-8zM3,19l4,-4v8zM35,19l-4,-4v8z" fill="#111"/></g>
<g transform="translate(1799,159)"><use href="#bt" /><path d="M15,15h8v8h-8z" fill="none" stroke="#111" stroke-width="2"/><path d="M19,7l4,5h-8zM19,31l4,-5h-8zM7,19l5,-4v8zM31,19l-5,-4v8z" fill="#111"/></g>
<g transform="translate(1839,159)"><use href="#bt"/><text x="19" y="25" text-anchor="middle" class="t" style="font-size:14px;fill:#111">1:2</text></g>
<g transform="translate(1879,159)"><use href="#bt"/><rect x="7" y="7" width="24" height="24" fill="none" stroke="#111" stroke-width="2"/><text x="19" y="26" text-anchor="middle" class="t" style="font-size:16px;fill:#111">?</text></g>
<g transform="translate(1759,198)"><use href="#bt"/><path d="M8,10H28M8,15H28" stroke="#111" stroke-width="2"/><ellipse cx="19" cy="26" rx="7" ry="5" fill="none" stroke="#111"/></g>
<g transform="translate(1799,198)"><use href="#bt"/><path d="M5,15H33M5,24H33M15,5V33M24,5V33" stroke="#5a9090"/></g>
<g transform="translate(1839,198)"><use href="#bt"/><rect x="2" y="2" width="34" height="34" fill="none" stroke="#c01818" stroke-width="3"/><circle cx="26" cy="12" r="4" fill="#e01010"/><circle cx="26" cy="20" r="3" fill="none" stroke="#111"/><circle cx="26" cy="27" r="3" fill="none" stroke="#111"/><circle cx="16" cy="8" r="3" fill="#1018c0"/><circle cx="9" cy="19" r="3" fill="#e01010"/><circle cx="12" cy="29" r="3" fill="#1018c0"/></g>
<g transform="translate(1879,198)"><use href="#bt"/><rect x="2" y="2" width="34" height="34" fill="none" stroke="#c01818" stroke-width="3"/><circle cx="26" cy="12" r="4" fill="#e01010"/><circle cx="26" cy="20" r="3" fill="none" stroke="#111"/><circle cx="26" cy="27" r="3" fill="none" stroke="#111"/><circle cx="16" cy="8" r="3" fill="#111"/><circle cx="9" cy="19" r="3" fill="#111"/><circle cx="12" cy="29" r="3" fill="#111"/></g>

<!-- toolbar lower -->
<g transform="translate(1759,243)"><use href="#bw"/><rect x="9" y="14" width="18" height="18" fill="none" stroke="#111" stroke-width="1.500"/><circle cx="18" cy="23" r="7" fill="#111"/><path d="M22,17L31,8M26,8h5v5" fill="none" stroke="#111" stroke-width="2"/></g>
<g transform="translate(1799,243)"><use href="#bw"/><rect x="5" y="5" width="28" height="28" fill="#000"/><rect x="19" y="7" width="12" height="12" fill="none" stroke="#e01010" stroke-width="2"/><rect x="8" y="24" width="7" height="7" fill="none" stroke="#1018c0" stroke-width="2"/><path d="M10,24L19,9M15,28L31,19" stroke="#fff"/></g>
<g transform="translate(1839,243)"><use href="#bw"/><rect x="7" y="14" width="24" height="10" fill="#111"/><path d="M9,14v-2M13,14v-2M17,14v-2M21,14v-2M25,14v-2M29,14v-2" stroke="#111"/></g>
<g transform="translate(1879,243)"><use href="#bw"/><rect x="7" y="7" width="24" height="24" fill="none" stroke="#111" stroke-dasharray="2 2"/><circle cx="19" cy="19" r="7.500" fill="#111"/></g>
<g transform="translate(1759,283)"><use href="#bg"/><path d="M11,10V27H27" fill="none" stroke="#0014d0" stroke-width="4"/><circle cx="11" cy="11" r="5" fill="#0014d0"/><circle cx="11" cy="27" r="5" fill="#0014d0"/><circle cx="27" cy="27" r="5" fill="#0014d0"/><circle cx="27" cy="11" r="5" fill="#f01010"/></g>
<g transform="translate(1799,283)"><use href="#bg"/><circle cx="19" cy="19" r="5" fill="#0014d0"/><path d="M11,11L27,27M27,11L11,27" stroke="#111" stroke-width="2"/></g>
<g transform="translate(1839,283)"><use href="#bg"/><circle cx="27" cy="11" r="5" fill="#f01010"/><circle cx="11" cy="27" r="4" fill="none" stroke="#0014d0" stroke-width="2.500"/><path d="M16,22L22,16" stroke="#333"/></g>
<g transform="translate(1879,283)"><use href="#bg"/><circle cx="27" cy="11" r="5" fill="#f01010"/><circle cx="11" cy="27" r="5" fill="#0014d0"/><path d="M16,22L22,16" stroke="#333"/></g>
<g transform="translate(1759,323)"><use href="#bg"/><path d="M10,24L26,9" stroke="#e01010" stroke-width="2.500"/><path d="M9,29H29" stroke="#0014d0" stroke-width="2.500"/></g>
<g transform="translate(1799,323)"><use href="#bg"/><path d="M10,27L18,19" stroke="#0014d0" stroke-width="2.500"/><path d="M18,19L28,9" stroke="#e01010" stroke-width="2.500"/></g>
<g transform="translate(1839,323)"><use href="#bg"/><path d="M16,9a9,9 0 0,1 3,18M19,27l4,-4M19,27l4,3" fill="none" stroke="#111" stroke-width="1.500"/></g>
<g transform="translate(1879,323)"><use href="#bg"/><path d="M19,6V32" stroke="#333"/><path d="M7,10H16V28M8,19H16" fill="none" stroke="#0014d0" stroke-width="2"/><path d="M31,10H22V28M22,19H30" fill="none" stroke="#e01010" stroke-width="2"/></g>
<g transform="translate(1759,363)"><use href="#bg"/><rect x="22" y="6" width="11" height="11" fill="#e01010"/><circle cx="27.500" cy="11.500" r="3" fill="#c6c6c6"/><rect x="6" y="21" width="11" height="11" fill="none" stroke="#0014d0"/><circle cx="11.500" cy="26.500" r="3.500" fill="#0014d0"/></g>
<g transform="translate(1799,363)"><use href="#bg"/><path d="M8,19H30" stroke="#e01010" stroke-width="3"/><path d="M15,19H22" stroke="#0014d0" stroke-width="3"/></g>
<g transform="translate(1839,363)"><use href="#bg"/><path d="M7,7V31M31,7V31" stroke="#333"/><path d="M9,19H29" stroke="#0014d0"/><rect x="14" y="13" width="10" height="12" fill="none" stroke="#0014d0"/></g>
<g transform="translate(1879,363)"><use href="#bg"/><path d="M7,8H21V15H32V31H14V22H7Z" fill="#0014d0"/><circle cx="13" cy="14" r="4" fill="#c6c6c6"/><circle cx="24" cy="24" r="5" fill="#c6c6c6"/></g>
<g transform="translate(1759,403)"><use href="#bg"/><path d="M8,27L19,11L30,27" fill="none" stroke="#e01010" stroke-width="2.500"/><path d="M7,28H31" stroke="#0014d0" stroke-width="3"/></g>
<g transform="translate(1799,403)"><use href="#bg"/><path d="M7,31L19,5L31,31" fill="none" stroke="#e01010" stroke-width="2"/><path d="M8,31L19,19L30,31" fill="none" stroke="#0014d0" stroke-width="2.500"/></g>
<g transform="translate(1839,403)"><use href="#bg"/><path d="M7,33L13,7H25L31,33" fill="none" stroke="#e01010" stroke-width="3"/><path d="M6,24H32" stroke="#0014d0" stroke-width="3"/><path d="M19,11v7" stroke="#111"/></g>
<g transform="translate(1879,403)"><use href="#bg"/><path d="M9,33L14,7H24L29,33" fill="none" stroke="#e01010" stroke-width="3"/><path d="M5,24H33" stroke="#0014d0" stroke-width="3"/><path d="M5,21L10,27M10,21L5,27M28,21L33,27M33,21L28,27" stroke="#111"/></g>
<g transform="translate(1759,443)"><use href="#by"/><use href="#arr" x="15" y="11"/></g>
<g transform="translate(1799,443)"><use href="#by"/><rect x="9" y="7" width="21" height="24" fill="none" stroke="#d01818" stroke-width="2.500"/><use href="#arr" x="15" y="10"/></g>
<g transform="translate(1839,443)"><use href="#by"/><path d="M13,7H29V31H13L8,25V13Z" fill="none" stroke="#d01818" stroke-width="2.500"/><use href="#arr" x="15" y="10"/></g>
<g transform="translate(1879,443)"><use href="#by"/><path d="M9,27V19H17V11H25" fill="none" stroke="#111"/><circle cx="9" cy="19" r="2.500" fill="#e01010"/><circle cx="9" cy="29" r="2.500" fill="#2fc030"/><circle cx="27" cy="10" r="2.500" fill="#2fc030"/><use href="#arr" x="21" y="15"/></g>

<!-- bottom bar -->
<rect x="0" y="985" width="1920" height="2" fill="#111"/>
<rect x="0" y="987" width="1840" height="32" fill="#ffffd0"/>
<g fill="#ffffd0" stroke="#999"><rect x="2" y="989" width="29" height="28"/><rect x="34" y="989" width="29" height="28"/></g>
<g fill="none" stroke="#444"><rect x="7" y="994" width="19" height="19"/><path d="M10,997L22,1010M10,997h5M10,997v5M22,1010h-5M22,1010v-5"/><rect x="39" y="994" width="19" height="19"/><path d="M42,1010L52,996M42,1010H56"/></g>
<rect x="66" y="987" width="29" height="32" fill="#46ac97"/><rect x="72" y="993" width="17" height="20" fill="#ffffd0"/><path d="M73,994h15v18h-15zM80,994v18M73,1003h15" fill="none" stroke="#333"/>
<text x="98" y="1009" class="m" style="font-size:13px">X Y :</text>
<rect x="144" y="990" width="170" height="26" fill="#ffffd0" stroke="#b5b58f" stroke-width="2"/>
<path d="M152,994V1007" stroke="#444" stroke-dasharray="1 1"/>
<rect x="318" y="987" width="29" height="32" fill="#46ac97"/><rect x="324" y="993" width="17" height="20" fill="#ffffd0" stroke="#333"/><path d="M332,996V1006M332,1008V1010" stroke="#111" stroke-width="1.500"/>
<text x="352" y="1008" class="m" style="font-size:11.700px">&lt;M1&gt; - Select first area corner</text>
<rect x="1840" y="987" width="80" height="32" fill="#46ac97"/><rect x="1847.500" y="990.500" width="69" height="25" fill="#52c9ae" stroke="#2f7f70"/>
<text x="1853" y="1008" class="m" style="font-size:13.500px;font-weight:normal">Inch</text><rect x="1897" y="1000" width="12" height="6" fill="#9fdcdc" stroke="#2f7f70"/>
<rect x="0" y="1019" width="1920" height="2" fill="#111"/>
<rect x="0" y="1021" width="1920" height="29" fill="#8aa8a8"/>
<rect x="3" y="1023" width="1913" height="25" fill="#b0ffff" stroke="#4a8a8a"/>
<text x="960" y="1039" class="m" style="font-size:11.700px" text-anchor="middle">1101 r6 Lines were selected</text>
<rect x="0" y="1050" width="1920" height="7" fill="#e0e0e0"/>
<rect x="48" y="1052" width="120" height="5" fill="#d4d0c8"/>
</svg>
</body></html>
